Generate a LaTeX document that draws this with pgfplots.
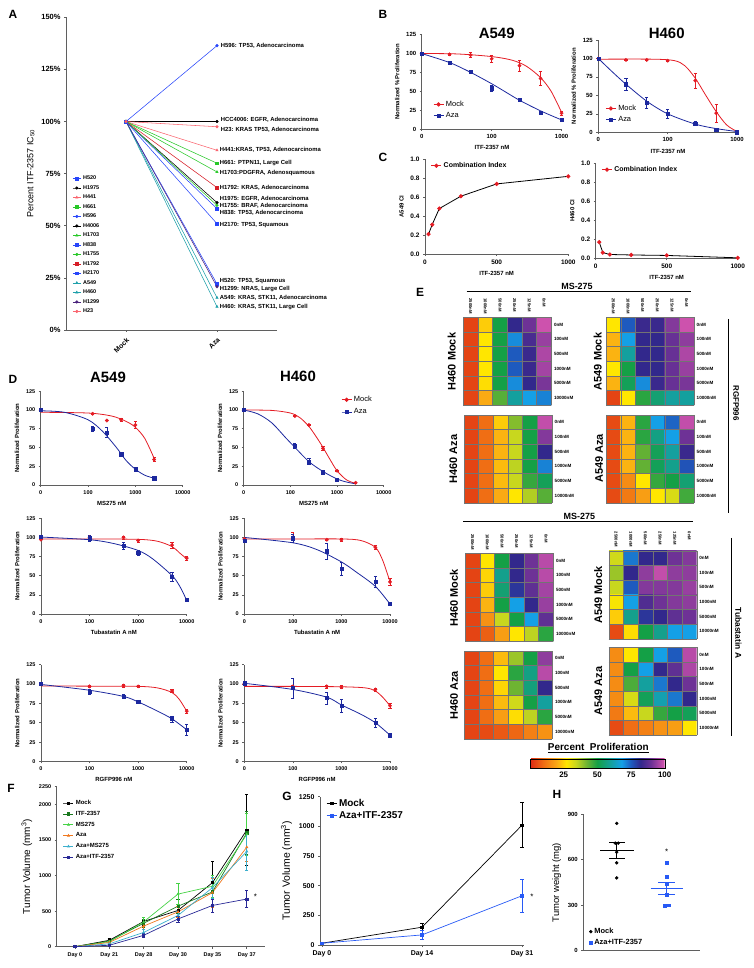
\documentclass[border=0pt]{standalone}
\usepackage{fontspec}
\setmainfont{Liberation Sans}
\usepackage{pgfplots}
\pgfplotsset{compat=1.18}
\definecolor{mred}{RGB}{228,28,36}
\definecolor{mblue}{RGB}{28,40,158}
\definecolor{cblue}{RGB}{40,70,250}
\definecolor{csalmon}{RGB}{250,100,110}
\definecolor{cgreen}{RGB}{40,200,40}
\definecolor{cred}{RGB}{215,30,40}
\definecolor{cteal}{RGB}{30,160,170}
\definecolor{cpurple}{RGB}{75,35,125}
\definecolor{fdgreen}{RGB}{25,120,30}
\definecolor{flgreen}{RGB}{70,210,70}
\definecolor{forange}{RGB}{240,120,30}
\definecolor{fcyan}{RGB}{60,175,205}
\definecolor{fnavy}{RGB}{40,40,150}
\definecolor{gblue}{RGB}{40,90,245}
\definecolor{axgray}{RGB}{95,95,95}
\pgfplotsset{
 /pgf/number format/assume math mode=true,
 /pgf/number format/1000 sep={},
 colormap={pp}{[1pt] rgb255(0pt)=(220,40,20); rgb255(10pt)=(240,110,20); rgb255(20pt)=(250,170,20); rgb255(27pt)=(255,230,0); rgb255(34pt)=(200,215,30); rgb255(42pt)=(110,180,50); rgb255(50pt)=(20,160,70); rgb255(58pt)=(20,160,140); rgb255(68pt)=(20,160,230); rgb255(75pt)=(30,90,190); rgb255(82pt)=(50,40,140); rgb255(90pt)=(110,50,150); rgb255(100pt)=(215,85,175)},
 base/.style={scale only axis, anchor=south west, clip=false, axis lines=left,
   axis line style={-, line width=0.7pt, axgray}, every tick/.style={line width=0.6pt, axgray},
   tick align=outside, major tick length=2bp,
   ticklabel style={font=\fontsize{5.5}{6}\selectfont\bfseries, black},
   label style={font=\fontsize{6}{7}\selectfont\bfseries}},
 dose/.style={base, ymin=0, ymax=125, ytick={0,25,50,75,100,125}, xmin=1, ylabel={Normalized Proliferation}},
 eb/.style={/pgfplots/error bars/y dir=both, /pgfplots/error bars/y explicit,
   /pgfplots/error bars/error bar style={line width=0.6pt},
   /pgfplots/error bars/error mark options={rotate=90, mark size=1.6bp, line width=0.6pt}},
 mockc/.style={mred, line width=0.8pt, smooth, no marks, forget plot},
 azac/.style={mblue, line width=0.8pt, smooth, no marks, forget plot},
 mockm/.style={only marks, mark=*, mark size=1.7bp, mred, forget plot, eb},
 azam/.style={only marks, mark=square*, mark size=1.6bp, mblue, forget plot, eb},
 shortleg/.style={legend image code/.code={\draw[mark repeat=2,mark phase=2,##1] plot coordinates {(0bp,0bp)(5bp,0bp)(10bp,0bp)};}},
 hmap/.style={scale only axis, anchor=north west, width=88bp, height=88bp, hide axis,
   xmin=-0.5, xmax=5.5, ymin=-0.5, ymax=5.5, y dir=reverse, colormap name=pp,
   point meta min=0, point meta max=100},
}
\newcommand{\hm}[3]{%
\begin{axis}[hmap, at={(#1bp,#2bp)}]
\addplot[matrix plot*, mesh/cols=6, point meta=explicit] coordinates {#3};
\end{axis}
\draw[black!55, line width=0.35pt, step=14.6667bp, shift={(#1bp,#2bp-88bp)}] (0bp,0bp) grid (88.05bp,88.05bp);
\foreach \lab [count=\i from 0] in {0nM,100nM,500nM,1000nM,5000nM,10000nM}
  \node[anchor=west, font=\fontsize{4.6}{5}\selectfont\bfseries, inner sep=0pt] at (#1bp+90.5bp, #2bp-7.33bp-\i*14.67bp) {\lab};
}
\newcommand{\collabs}[2]{%
\foreach \lab [count=\i from 0] in {2500nM,1000nM,500nM,250nM,125nM,0nM}
  \node[rotate=-90, anchor=west, font=\fontsize{4.2}{5}\selectfont\bfseries, inner sep=0pt] at (#1bp+7.33bp+\i*14.67bp, #2bp+19bp) {\lab};
}
\begin{document}
\begin{tikzpicture}
\path[use as bounding box] (0bp,0bp) rectangle (754bp,968bp);
\tikzset{plab/.style={font=\fontsize{12}{12}\selectfont\bfseries}}
\node[plab] at (13bp,954bp) {A};
\node[plab] at (383bp,954bp) {B};
\node[plab] at (383bp,811bp) {C};
\node[plab] at (13bp,589bp) {D};
\node[plab] at (420bp,676bp) {E};
\node[plab] at (11bp,180bp) {F};
\node[plab] at (287bp,172bp) {G};
\node[plab] at (557bp,174bp) {H};

% ---------------- Panel A
\begin{axis}[base, at={(66bp,638bp)}, width=211bp, height=312.7bp, xmin=0.34, xmax=2.66, ymin=0, ymax=150,
  ytick={0,25,50,75,100,125,150}, yticklabel={\pgfmathprintnumber{\tick}\%},
  xtick={1,2}, xticklabels={Mock,Aza},
  xticklabel style={rotate=45, anchor=north east, font=\fontsize{7}{8}\selectfont\bfseries},
  yticklabel style={font=\fontsize{7.5}{8}\selectfont\bfseries},
  ylabel={Percent ITF-2357 IC\textsubscript{50}}, ylabel style={font=\fontsize{9}{10}\selectfont},
  every axis plot/.append style={line width=0.55pt, mark size=1.3bp},
  legend image code/.code={\draw[mark repeat=2,mark phase=2,#1] plot coordinates {(0bp,0bp)(4bp,0bp)(8bp,0bp)};},
  legend style={at={(0.03,0.5)}, anchor=north west, draw=none, fill=none, font=\fontsize{5.5}{6}\selectfont\bfseries, row sep=0.2bp, inner sep=0pt},
  legend cell align=left]
\addplot[cblue, mark=square*] coordinates {(1,100)(2,22.1)}; \addlegendentry{H520}
\addplot[black, mark=*] coordinates {(1,100)(2,61.1)}; \addlegendentry{H1975}
\addplot[csalmon, mark=triangle*] coordinates {(1,100)(2,86.2)}; \addlegendentry{H441}
\addplot[cgreen, mark=square*] coordinates {(1,100)(2,80)}; \addlegendentry{H661}
\addplot[cblue, mark=*] coordinates {(1,100)(2,136.4)}; \addlegendentry{H596}
\addplot[black, mark=*] coordinates {(1,100)(2,100)}; \addlegendentry{H4006}
\addplot[cgreen, mark=triangle*] coordinates {(1,100)(2,75.8)}; \addlegendentry{H1703}
\addplot[cblue, mark=square*] coordinates {(1,100)(2,58.2)}; \addlegendentry{H838}
\addplot[cgreen, mark=*] coordinates {(1,100)(2,59.8)}; \addlegendentry{H1755}
\addplot[cred, mark=square*] coordinates {(1,100)(2,68.3)}; \addlegendentry{H1792}
\addplot[cblue, mark=square*] coordinates {(1,100)(2,51.0)}; \addlegendentry{H2170}
\addplot[cteal, mark=triangle*] coordinates {(1,100)(2,15.5)}; \addlegendentry{A549}
\addplot[cteal, mark=triangle*] coordinates {(1,100)(2,11.2)}; \addlegendentry{H460}
\addplot[cpurple, mark=*] coordinates {(1,100)(2,20.8)}; \addlegendentry{H1299}
\addplot[csalmon, mark=*] coordinates {(1,100)(2,97.5)}; \addlegendentry{H23}
\tikzset{al/.style={anchor=west, font=\fontsize{5.9}{6}\selectfont\bfseries, inner sep=0pt}}
\node[al] at (axis cs:2.04,136.4) {H596: TP53, Adenocarcinoma};
\node[al] at (axis cs:2.04,100.6) {HCC4006: EGFR, Adenocarcinoma};
\node[al] at (axis cs:2.04,96.2) {H23: KRAS TP53, Adenocarcinoma};
\node[al] at (axis cs:2.03,86.2) {H441:KRAS, TP53, Adenocarcinoma};
\node[al] at (axis cs:2.03,80) {H661: PTPN11, Large Cell};
\node[al] at (axis cs:2.03,75.5) {H1703:PDGFRA, Adenosquamous};
\node[al] at (axis cs:2.03,68.1) {H1792: KRAS, Adenocarcinoma};
\node[al] at (axis cs:2.03,63) {H1975: EGFR, Adenocarcinoma};
\node[al] at (axis cs:2.03,59.8) {H1755: BRAF, Adenocarcinoma};
\node[al] at (axis cs:2.03,56) {H838: TP53, Adenocarcinoma};
\node[al] at (axis cs:2.03,50.4) {H2170: TP53, Squamous};
\node[al] at (axis cs:2.03,23.6) {H520: TP53, Squamous};
\node[al] at (axis cs:2.03,19.6) {H1299: NRAS, Large Cell};
\node[al] at (axis cs:2.03,15.3) {A549: KRAS, STK11, Adenocarcinoma};
\node[al] at (axis cs:2.03,11) {H460: KRAS, STK11, Large Cell};
\end{axis}

% ---------------- Panel B
\node[font=\fontsize{15}{15}\selectfont\bfseries] at (496.7bp,935bp) {A549};
\node[font=\fontsize{15}{15}\selectfont\bfseries] at (666.7bp,935bp) {H460};
\begin{axis}[dose, at={(421.7bp,839bp)}, width=140.6bp, height=94.3bp, xmax=3.01, xtick={1,2,3}, xticklabels={0,100,1000},
  ticklabel style={font=\fontsize{6}{7}\selectfont\bfseries},
  xlabel={ITF-2357 nM}, ylabel={Normalized \% Proliferation}, shortleg,
  legend style={at={(0.08,0.32)}, anchor=north west, draw=none, fill=none, font=\fontsize{7.5}{8}\selectfont, inner sep=0pt, row sep=0.5bp}, legend cell align=left]
\addplot[mockc] coordinates {(1,100)(1.5,99.5)(2,96)(2.3,91)(2.5,83)(2.7,68)(2.85,50)(3,22)};
\addplot[azac] coordinates {(1,100)(1.4,88)(1.7,75)(2,60)(2.2,49)(2.4,38)(2.7,24)(3,12)};
\addplot[mockm] coordinates {(1,100)+-(0,0) (1.398,99)+-(0,1) (1.699,98)+-(0,3) (2,93)+-(0,5) (2.398,84)+-(0,7) (2.699,67)+-(0,9) (3,21)+-(0,3)};
\addplot[azam] coordinates {(1,100)+-(0,0) (1.398,88)+-(0,1) (1.699,76)+-(0,2) (2,54)+-(0,4) (2.398,39)+-(0,2) (2.699,22)+-(0,1) (3,12)+-(0,2)};
\addlegendimage{mred, line width=0.8pt, mark=*, mark size=1.7bp}\addlegendentry{Mock}
\addlegendimage{mblue, line width=0.8pt, mark=square*, mark size=1.6bp}\addlegendentry{Aza}
\end{axis}
\begin{axis}[dose, at={(598.3bp,835.7bp)}, width=139.4bp, height=92.3bp, xmax=3.01, xtick={1,2,3}, xticklabels={0,100,1000},
  ticklabel style={font=\fontsize{6}{7}\selectfont\bfseries},
  xlabel={ITF-2357 nM}, ylabel={Normalized \% Proliferation}, shortleg,
  legend style={at={(0.05,0.32)}, anchor=north west, draw=none, fill=none, font=\fontsize{7.5}{8}\selectfont, inner sep=0pt, row sep=0.5bp}, legend cell align=left]
\addplot[mockc] coordinates {(1,99)(1.8,99)(2.1,97)(2.25,90)(2.4,73)(2.55,50)(2.7,28)(2.85,10)(3,1)};
\addplot[azac] coordinates {(1,100)(1.2,82)(1.4,65)(1.7,42)(2,25)(2.4,11)(2.7,5)(3,1)};
\addplot[mockm] coordinates {(1,100)+-(0,0) (1.398,98)+-(0,1) (1.699,98)+-(0,1) (2,97)+-(0,1) (2.398,70)+-(0,10) (2.699,26)+-(0,12) (3,0)+-(0,1)};
\addplot[azam] coordinates {(1,100)+-(0,0) (1.398,65)+-(0,8) (1.699,40)+-(0,8) (2,25)+-(0,6) (2.398,12)+-(0,3) (2.699,4)+-(0,2) (3,0)+-(0,0)};
\addlegendimage{mred, line width=0.8pt, mark=*, mark size=1.7bp}\addlegendentry{Mock}
\addlegendimage{mblue, line width=0.8pt, mark=square*, mark size=1.6bp}\addlegendentry{Aza}
\end{axis}

% ---------------- Panel C
\begin{axis}[base, at={(425bp,714bp)}, width=143.3bp, height=94.7bp, xmin=0, xmax=1000, ymin=0, ymax=1,
  xtick={0,500,1000}, ytick={0,0.2,0.4,0.6,0.8,1},
  yticklabel style={/pgf/number format/.cd, fixed, fixed zerofill, precision=1},
  ticklabel style={font=\fontsize{6.5}{7}\selectfont\bfseries},
  xlabel={ITF-2357 nM}, ylabel={A549 CI}, shortleg,
  legend style={at={(0.04,0.99)}, anchor=north west, draw=none, fill=none, font=\fontsize{7}{8}\selectfont\bfseries, inner sep=0pt},
  legend image post style={mred}]
\addplot[black, line width=0.8pt, mark=*, mark size=1.7bp, mark options={mred, fill=mred}] coordinates {(25,0.21)(50,0.31)(100,0.48)(250,0.61)(500,0.74)(1000,0.82)};
\addlegendentry{Combination Index}
\end{axis}
\begin{axis}[base, at={(595.7bp,709.7bp)}, width=142bp, height=95bp, xmin=0, xmax=1000, ymin=0, ymax=1,
  xtick={0,500,1000}, ytick={0,0.2,0.4,0.6,0.8,1},
  yticklabel style={/pgf/number format/.cd, fixed, fixed zerofill, precision=1},
  ticklabel style={font=\fontsize{6.5}{7}\selectfont\bfseries},
  xlabel={ITF-2357 nM}, ylabel={H460 CI}, shortleg,
  legend style={at={(0.04,0.99)}, anchor=north west, draw=none, fill=none, font=\fontsize{7}{8}\selectfont\bfseries, inner sep=0pt},
  legend image post style={mred}]
\addplot[black, line width=0.8pt, mark=*, mark size=1.7bp, mark options={mred, fill=mred}] coordinates {(25,0.17)(50,0.06)(100,0.04)(250,0.035)(500,0.03)(1000,0.005)};
\addlegendentry{Combination Index}
\end{axis}

% ---------------- Panel D
\node[font=\fontsize{15}{15}\selectfont\bfseries] at (108bp,591bp) {A549};
\node[font=\fontsize{15}{15}\selectfont\bfseries] at (298bp,592bp) {H460};
\begin{axis}[dose, at={(40.7bp,483bp)}, width=142bp, height=93.7bp, xmax=4, xtick={1,2,3,4}, xticklabels={0,100,1000,10000}, xlabel={MS275 nM}]
\addplot[mockc] coordinates {(1,97)(2,96)(2.5,92)(2.8,85)(3,77)(3.2,62)(3.4,35)};
\addplot[azac] coordinates {(1,99)(1.5,97)(2,87)(2.3,72)(2.6,50)(2.8,33)(3,21)(3.2,13)(3.4,9)};
\addplot[mockm] coordinates {(1,100)+-(0,0) (2.097,95)+-(0,1) (2.398,86)+-(0,0) (2.699,87)+-(0,2) (3,80)+-(0,5) (3.398,34)+-(0,3)};
\addplot[azam] coordinates {(1,100)+-(0,0) (2.097,75)+-(0,3) (2.398,70)+-(0,7) (2.699,41)+-(0,3) (3,21)+-(0,3) (3.398,9)+-(0,1)};
\end{axis}
\begin{axis}[dose, at={(243.7bp,483bp)}, width=140bp, height=93.7bp, xmax=4, xtick={1,2,3,4}, xticklabels={0,100,1000,10000}, xlabel={MS275 nM}, shortleg,
  legend style={at={(0.695,0.97)}, anchor=north west, draw=none, fill=none, font=\fontsize{7.5}{8}\selectfont, inner sep=0pt, row sep=1.5bp}, legend cell align=left]
\addplot[mockc] coordinates {(1,100)(1.6,99.5)(2,96)(2.2,90)(2.4,78)(2.6,60)(2.7,50)(2.85,34)(3,19)(3.2,7)(3.4,2)};
\addplot[azac] coordinates {(1,100)(1.3,95)(1.6,83)(1.9,63)(2.1,50)(2.4,31)(2.7,18)(3,8)(3.2,4)(3.4,1.5)};
\addplot[mockm] coordinates {(1,100)+-(0,0) (2.097,92)+-(0,1) (2.398,80)+-(0,1) (2.699,49)+-(0,3) (3,19)+-(0,1) (3.398,3)+-(0,1)};
\addplot[azam] coordinates {(1,100)+-(0,0) (2.097,52)+-(0,3) (2.398,31)+-(0,4) (2.699,17)+-(0,2) (3,7)+-(0,1)};
\addlegendimage{mred, line width=0.8pt, mark=*, mark size=1.7bp}\addlegendentry{Mock}
\addlegendimage{mblue, line width=0.8pt, mark=square*, mark size=1.6bp}\addlegendentry{Aza}
\end{axis}
\begin{axis}[dose, at={(41bp,354bp)}, width=145.7bp, height=95.7bp, xmax=4, xtick={1,2,3,4}, xticklabels={0,100,1000,10000}, xlabel={Tubastatin A nM}]
\addplot[mockc] coordinates {(1,98)(2,98)(3,97.5)(3.4,95)(3.7,88)(3.85,80)(4,72)};
\addplot[azac] coordinates {(1,100.5)(2,97)(2.5,92)(3,83)(3.3,72)(3.7,50)(3.85,37)(4,18)};
\addplot[mockm] coordinates {(1,97)+-(0,0) (2,100)+-(0,1) (2.699,100)+-(0,2) (3,96)+-(0,2) (3.699,90)+-(0,4) (4,73)+-(0,3)};
\addplot[azam] coordinates {(1,101)+-(0,0) (2,99)+-(0,4) (2.699,89)+-(0,4) (3,80)+-(0,3) (3.699,49)+-(0,6) (4,19)+-(0,1)};
\end{axis}
\begin{axis}[dose, at={(244.3bp,354bp)}, width=145.7bp, height=95.7bp, xmax=4, xtick={1,2,3,4}, xticklabels={0,100,1000,10000}, xlabel={Tubastatin A nM}]
\addplot[mockc] coordinates {(1,98)(2,98)(3,98)(3.4,96)(3.7,87)(3.85,70)(4,42)};
\addplot[azac] coordinates {(1,100)(2,93)(2.5,84)(3,68)(3.3,55)(3.7,36)(4,13)};
\addplot[mockm] coordinates {(1,98)+-(0,0) (2,100)+-(0,7) (2.699,97)+-(0,1) (3,97)+-(0,2) (3.699,87)+-(0,3) (4,42)+-(0,5)};
\addplot[azam] coordinates {(1,96)+-(0,2) (2,99)+-(0,5) (2.699,82)+-(0,10) (3,59)+-(0,8) (3.699,42)+-(0,7) (4,13)+-(0,2)};
\end{axis}
\begin{axis}[dose, at={(41bp,206.5bp)}, width=145.7bp, height=96.8bp, xmax=4, xtick={1,2,3,4}, xticklabels={0,100,1000,10000}, xlabel={RGFP996 nM}]
\addplot[mockc] coordinates {(1,97.5)(2,97.3)(3,97)(3.4,95)(3.7,89)(3.85,80)(4,65)};
\addplot[azac] coordinates {(1,99.5)(2,92)(2.7,84)(3,77)(3.4,65)(3.7,55)(4,41)};
\addplot[mockm] coordinates {(1,100)+-(0,0) (2,97)+-(0,1) (2.699,98)+-(0,2) (3,97)+-(0,1) (3.699,91)+-(0,2) (4,65)+-(0,3)};
\addplot[azam] coordinates {(1,100)+-(0,0) (2,90)+-(0,3) (2.699,84)+-(0,3) (3,77)+-(0,2) (3.699,55)+-(0,4) (4,41)+-(0,7)};
\end{axis}
\begin{axis}[dose, at={(244.3bp,206.5bp)}, width=145.7bp, height=96.8bp, xmax=4, xtick={1,2,3,4}, xticklabels={0,100,1000,10000}, xlabel={RGFP996 nM}]
\addplot[mockc] coordinates {(1,97)(2,97)(3,96.5)(3.5,95)(3.7,91)(3.85,83)(4,72)};
\addplot[azac] coordinates {(1,101)(2,93)(2.7,83)(3,73)(3.4,61)(3.7,50)(4,34)};
\addplot[mockm] coordinates {(1,100)+-(0,0) (2,97)+-(0,1) (2.699,97)+-(0,2) (3,96)+-(0,2) (3.699,93)+-(0,2) (4,72)+-(0,3)};
\addplot[azam] coordinates {(1,101)+-(0,0) (2,95)+-(0,13) (2.699,82)+-(0,8) (3,72)+-(0,8) (3.699,50)+-(0,6) (4,34)+-(0,3)};
\end{axis}

% ---------------- Panel E
\node[font=\fontsize{9}{10}\selectfont\bfseries] at (577bp,682bp) {MS-275};
\draw[line width=0.8pt] (466.7bp,676.3bp) -- (690.7bp,676.3bp);
\node[font=\fontsize{9}{10}\selectfont\bfseries] at (579.3bp,451.3bp) {MS-275};
\draw[line width=0.8pt] (463.3bp,446.3bp) -- (693.3bp,446.3bp);
\draw[line width=0.8pt] (728.3bp,649bp) -- (728.3bp,455.3bp);
\node[rotate=-90, font=\fontsize{8}{9}\selectfont\bfseries] at (736bp,565bp) {RGFP996};
\draw[line width=0.8pt] (731bp,430bp) -- (731bp,232.3bp);
\node[rotate=-90, font=\fontsize{8.5}{9}\selectfont\bfseries] at (738.5bp,335bp) {Tubastatin A};
\tikzset{sl/.style={rotate=90, font=\fontsize{11}{11}\selectfont\bfseries}}
\node[sl] at (451.7bp,606.5bp) {H460 Mock};
\node[sl] at (597.7bp,606.5bp) {A549 Mock};
\node[sl] at (453.3bp,509bp) {H460 Aza};
\node[sl] at (599bp,509.5bp) {A549 Aza};
\node[sl] at (454bp,370bp) {H460 Mock};
\node[sl] at (598.3bp,373bp) {A549 Mock};
\node[sl] at (454bp,272.5bp) {H460 Aza};
\node[sl] at (598.3bp,277bp) {A549 Aza};
\collabs{463.3}{650.7}
\collabs{606}{650.7}
\collabs{465.3}{414.7}
\collabs{608.7}{417.3}
\hm{463.3}{650.7}{(0,0)[4](1,0)[24](2,0)[50](3,0)[82](4,0)[90](5,0)[99]
(0,1)[4](1,1)[27](2,1)[50](3,1)[70](4,1)[85](5,1)[94]
(0,2)[4](1,2)[27](2,2)[50](3,2)[75](4,2)[83](5,2)[96]
(0,3)[4](1,3)[27](2,3)[50](3,3)[75](4,3)[83](5,3)[95]
(0,4)[4](1,4)[26](2,4)[50](3,4)[70](4,4)[82](5,4)[91]
(0,5)[4](1,5)[20](2,5)[44](3,5)[60](4,5)[68](5,5)[71]}
\hm{606}{650.7}{(0,0)[27](1,0)[75](2,0)[83](3,0)[83](4,0)[92](5,0)[99]
(0,1)[21](1,1)[68](2,1)[82](3,1)[82](4,1)[89](5,1)[93]
(0,2)[21](1,2)[60](2,2)[82](3,2)[82](4,2)[89](5,2)[96]
(0,3)[27](1,3)[50](2,3)[82](3,3)[82](4,3)[89](5,3)[94]
(0,4)[21](1,4)[52](2,4)[70](3,4)[83](4,4)[89](5,4)[91]
(0,5)[4](1,5)[27](2,5)[48](3,5)[55](4,5)[60](5,5)[60]}
\hm{464}{553}{(0,0)[4](1,0)[10](2,0)[24](3,0)[40](4,0)[50](5,0)[98]
(0,1)[4](1,1)[10](2,1)[21](3,1)[34](4,1)[50](5,1)[92]
(0,2)[4](1,2)[10](2,2)[21](3,2)[34](4,2)[50](5,2)[82]
(0,3)[4](1,3)[10](2,3)[22](3,3)[35](4,3)[50](5,3)[71]
(0,4)[4](1,4)[10](2,4)[22](3,4)[34](4,4)[47](5,4)[52]
(0,5)[4](1,5)[10](2,5)[20](3,5)[27](4,5)[36](5,5)[44]}
\hm{606}{553}{(0,0)[5](1,0)[21](2,0)[48](3,0)[68](4,0)[74](5,0)[98]
(0,1)[5](1,1)[21](2,1)[48](3,1)[57](4,1)[68](5,1)[90]
(0,2)[5](1,2)[21](2,2)[43](3,2)[52](4,2)[60](5,2)[83]
(0,3)[5](1,3)[21](2,3)[43](3,3)[52](4,3)[58](5,3)[76]
(0,4)[5](1,4)[15](2,4)[27](3,4)[47](4,4)[50](5,4)[55]
(0,5)[5](1,5)[12](2,5)[18](3,5)[27](4,5)[32](5,5)[46]}
\hm{465.3}{414.7}{(0,0)[4](1,0)[27](2,0)[50](3,0)[82](4,0)[90](5,0)[97]
(0,1)[4](1,1)[25](2,1)[58](3,1)[82](4,1)[90](5,1)[97]
(0,2)[4](1,2)[24](2,2)[55](3,2)[80](4,2)[88](5,2)[95]
(0,3)[4](1,3)[21](2,3)[50](3,3)[68](4,3)[82](5,3)[94]
(0,4)[4](1,4)[16](2,4)[34](3,4)[50](4,4)[68](5,4)[88]
(0,5)[4](1,5)[8](2,5)[18](3,5)[27](4,5)[35](5,5)[48]}
\hm{608.7}{417.3}{(0,0)[33](1,0)[72](2,0)[82](3,0)[82](4,0)[90](5,0)[92]
(0,1)[38](1,1)[82](2,1)[93](3,1)[98](4,1)[93](5,1)[93]
(0,2)[34](1,2)[75](2,2)[92](3,2)[92](4,2)[92](5,2)[94]
(0,3)[28](1,3)[68](2,3)[86](3,3)[90](4,3)[92](5,3)[93]
(0,4)[24](1,4)[58](2,4)[80](3,4)[82](4,4)[88](5,4)[90]
(0,5)[5](1,5)[26](2,5)[50](3,5)[58](4,5)[68](5,5)[68]}
\hm{464.3}{317}{(0,0)[4](1,0)[10](2,0)[22](3,0)[38](4,0)[50](5,0)[93]
(0,1)[4](1,1)[10](2,1)[27](3,1)[48](4,1)[57](5,1)[97]
(0,2)[4](1,2)[10](2,2)[25](3,2)[42](4,2)[56](5,2)[82]
(0,3)[4](1,3)[10](2,3)[22](3,3)[33](4,3)[50](5,3)[60]
(0,4)[4](1,4)[10](2,4)[18](3,4)[26](4,4)[35](5,4)[48]
(0,5)[4](1,5)[5](2,5)[7](3,5)[9](4,5)[13](5,5)[16]}
\hm{608.7}{320.7}{(0,0)[15](1,0)[27](2,0)[50](3,0)[68](4,0)[75](5,0)[97]
(0,1)[15](1,1)[50](2,1)[68](3,1)[82](4,1)[88](5,1)[96]
(0,2)[15](1,2)[45](2,2)[60](3,2)[72](4,2)[82](5,2)[90]
(0,3)[15](1,3)[32](2,3)[52](3,3)[62](4,3)[72](5,3)[82]
(0,4)[12](1,4)[22](2,4)[34](3,4)[47](4,4)[50](5,4)[52]
(0,5)[5](1,5)[10](2,5)[13](3,5)[16](4,5)[18](5,5)[27]}
\node[font=\fontsize{10}{11}\selectfont\bfseries] at (598.3bp,219.7bp) {\underline{Percent\ \ Proliferation}};
\begin{axis}[at={(530bp,199.7bp)}, anchor=south west, scale only axis, width=134.7bp, height=9.3bp, hide axis,
  xmin=0, xmax=1, ymin=0, ymax=1, colormap name=pp, point meta min=0, point meta max=100,
  colorbar horizontal,
  colorbar style={at={(0,0)}, anchor=south west, width=134.7bp, height=9.3bp, scale only axis,
    xtick={25,50,75,100}, major tick length=0pt,
    xticklabel style={font=\fontsize{8}{9}\selectfont\bfseries}}]
\addplot[draw=none, point meta=explicit] coordinates {(0,0)[0] (1,1)[100]};
\end{axis}

% ---------------- Panel F
\begin{axis}[base, at={(56.7bp,21.3bp)}, width=208.3bp, height=160bp, xmin=-0.53, xmax=5.53, ymin=0, ymax=2250,
  ytick={0,500,1000,1500,2000,2250}, xtick={0,1,2,3,4,5},
  xticklabels={Day 0,Day 21,Day 28,Day 30,Day 35,Day 37},
  ylabel={Tumor Volume (mm\textsuperscript{3})}, ylabel style={font=\fontsize{10}{11}\selectfont},
  every axis plot/.append style={line width=0.7pt, mark size=1.1bp},
  shortleg,
  legend style={at={(0.03,0.93)}, anchor=north west, draw=none, fill=none, font=\fontsize{6}{6}\selectfont\bfseries, row sep=1.2bp, inner sep=0pt},
  legend cell align=left]
\addplot[black, mark=square*, eb] coordinates {(0,0)+-(0,0) (1,90)+-(0,25) (2,355)+-(0,60) (3,510)+-(0,90) (4,900)+-(0,300) (5,1640)+-(0,500)};
\addlegendentry{Mock}
\addplot[fdgreen, mark=square*, eb] coordinates {(0,0)+-(0,0) (1,80)+-(0,20) (2,330)+-(0,60) (3,570)+-(0,100) (4,770)+-(0,200) (5,1600)+-(0,300)};
\addlegendentry{ITF-2357}
\addplot[flgreen, mark=triangle*, eb] coordinates {(0,0)+-(0,0) (1,70)+-(0,20) (2,350)+-(0,60) (3,740)+-(0,150) (4,850)+-(0,150) (5,1580)+-(0,300)};
\addlegendentry{MS275}
\addplot[forange, mark=triangle*, eb] coordinates {(0,0)+-(0,0) (1,60)+-(0,20) (2,290)+-(0,50) (3,490)+-(0,80) (4,760)+-(0,200) (5,1400)+-(0,200)};
\addlegendentry{Aza}
\addplot[fcyan, mark=triangle*, eb] coordinates {(0,0)+-(0,0) (1,40)+-(0,15) (2,200)+-(0,40) (3,440)+-(0,60) (4,830)+-(0,150) (5,1340)+-(0,270)};
\addlegendentry{Aza+MS275}
\addplot[fnavy, mark=square*, eb] coordinates {(0,0)+-(0,0) (1,20)+-(0,10) (2,160)+-(0,30) (3,390)+-(0,40) (4,580)+-(0,90) (5,670)+-(0,120)};
\addlegendentry{Aza+ITF-2357}
\node[font=\fontsize{8}{8}\selectfont] at (axis cs:5.25,700) {*};
\end{axis}

% ---------------- Panel G
\begin{axis}[base, at={(320bp,23bp)}, width=204bp, height=148.3bp, xmin=-0.02, xmax=2.02, ymin=0, ymax=1250,
  ytick={0,250,500,750,1000,1250}, xtick={0,1,2}, xticklabels={Day 0,Day 14,Day 31},
  ticklabel style={font=\fontsize{7}{8}\selectfont\bfseries},
  ylabel={Tumor Volume (mm\textsuperscript{3})}, ylabel style={font=\fontsize{10.5}{11}\selectfont},
  every axis plot/.append style={line width=0.7pt, mark size=1.3bp},
  shortleg,
  legend style={at={(0.03,1.0)}, anchor=north west, draw=none, fill=none, font=\fontsize{10}{11}\selectfont\bfseries, inner sep=0pt},
  legend cell align=left]
\addplot[black, mark=square*, eb] coordinates {(0,15)+-(0,5) (1,150)+-(0,30) (2,1010)+-(0,190)};
\addlegendentry{Mock}
\addplot[gblue, mark=square*, eb] coordinates {(0,15)+-(0,5) (1,85)+-(0,40) (2,415)+-(0,140)};
\addlegendentry{Aza+ITF-2357}
\node[font=\fontsize{8}{8}\selectfont] at (axis cs:2.1,405) {*};
\end{axis}

% ---------------- Panel H
\begin{axis}[base, at={(583.3bp,17.3bp)}, width=116.7bp, height=136.4bp, xmin=0.33, xmax=2.67, ymin=0, ymax=900,
  ytick={0,300,600,900}, xtick=\empty,
  ticklabel style={font=\fontsize{6}{7}\selectfont\bfseries},
  ylabel={Tumor weight (mg)}, ylabel style={font=\fontsize{9.5}{10}\selectfont},
  legend style={at={(0.05,0.02)}, anchor=south west, draw=none, fill=none, font=\fontsize{7.5}{8}\selectfont\bfseries, inner sep=0pt},
  legend cell align=left]
\addplot[only marks, mark=*, mark size=1.5bp, black] coordinates {(1,840)(0.97,710)(1.03,710)(1,650)(1,580)(1,480)};
\addlegendentry{Mock}
\addplot[only marks, mark=square*, mark size=1.4bp, gblue] coordinates {(2,580)(2,488)(2,440)(2,370)(1.96,297)(2.05,300)};
\addlegendentry{Aza+ITF-2357}
\addplot[black, line width=0.8pt, forget plot] coordinates {(0.67,662)(1.35,662)};
\addplot[black, line width=0.8pt, forget plot] coordinates {(1,612)(1,712)};
\addplot[black, line width=0.8pt, forget plot] coordinates {(0.85,712)(1.17,712)};
\addplot[black, line width=0.8pt, forget plot] coordinates {(0.85,612)(1.17,612)};
\addplot[gblue, line width=0.8pt, forget plot] coordinates {(1.68,410)(2.33,410)};
\addplot[gblue, line width=0.8pt, forget plot] coordinates {(2,372)(2,449)};
\addplot[gblue, line width=0.8pt, forget plot] coordinates {(1.83,449)(2.17,449)};
\addplot[gblue, line width=0.8pt, forget plot] coordinates {(1.83,372)(2.17,372)};
\node[font=\fontsize{8}{8}\selectfont] at (axis cs:2,650) {*};
\end{axis}
\end{tikzpicture}
\end{document}
